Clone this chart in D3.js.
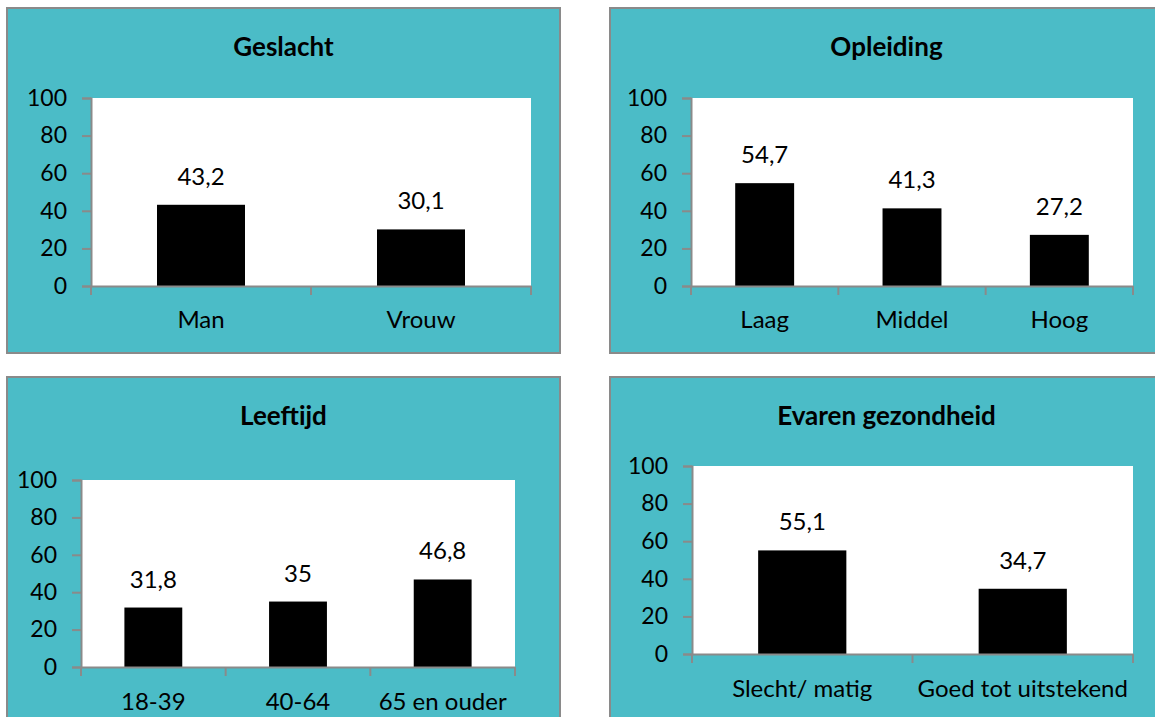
<!DOCTYPE html>
<html>
<head>
<meta charset="utf-8">
<script src="https://cdn.jsdelivr.net/npm/d3@7"></script>
<style>
  html, body { margin: 0; padding: 0; background: #ffffff; }
  svg { display: block; }
  text { font-family: Lato, "Open Sans", sans-serif; fill: #000; }
</style>
</head>
<body>
<svg id="chart" width="1155" height="717"></svg>
<script>
// ---- data ----
const titles = ["Geslacht", "Opleiding", "Leeftijd", "Evaren gezondheid"];
const geslachtCategories = ["Man", "Vrouw"];
const geslachtValues = [43.2, 30.1];
const opleidingCategories = ["Laag", "Middel", "Hoog"];
const opleidingValues = [54.7, 41.3, 27.2];
const leeftijdCategories = ["18-39", "40-64", "65 en ouder"];
const leeftijdValues = [31.8, 35, 46.8];
const gezondheidCategories = ["Slecht/ matig", "Goed tot uitstekend"];
const gezondheidValues = [55.1, 34.7];
const yTickValues = [0, 20, 40, 60, 80, 100];

// ---- layout ----
const panels = [
  { title: titles[0], cats: geslachtCategories, vals: geslachtValues,
    box: [7, 8, 553, 345], plot: [91, 98, 440, 188], titleY: 56, catY: 328 },
  { title: titles[1], cats: opleidingCategories, vals: opleidingValues,
    box: [610, 8, 553, 345], plot: [691, 98, 442, 188], titleY: 56, catY: 328 },
  { title: titles[2], cats: leeftijdCategories, vals: leeftijdValues,
    box: [7, 377, 553, 345], plot: [81, 480, 434, 187], titleY: 425, catY: 710 },
  { title: titles[3], cats: gezondheidCategories, vals: gezondheidValues,
    box: [610, 377, 553, 345], plot: [692, 466, 441, 188], titleY: 425, catY: 697 }
];

const svg = d3.select("#chart");
const fmt = v => String(v).replace(".", ",");
const TEAL = "#4BBCC7", GRID = "#8a8a8a";
const FS = 24;

panels.forEach(p => {
  const g = svg.append("g");
  const [bx, by, bw, bh] = p.box;
  const [px, py, pw, ph] = p.plot;

  g.append("rect").attr("x", bx).attr("y", by).attr("width", bw).attr("height", bh)
    .attr("fill", TEAL).attr("stroke", GRID).attr("stroke-width", 2);

  g.append("text").attr("x", bx + bw / 2).attr("y", p.titleY)
    .attr("text-anchor", "middle").attr("font-weight", "bold")
    .attr("font-size", 26).text(p.title);

  g.append("rect").attr("x", px).attr("y", py).attr("width", pw).attr("height", ph)
    .attr("fill", "#fff");

  const x = d3.scaleBand().domain(p.cats).range([px, px + pw]).paddingInner(0.6).paddingOuter(0.3);
  const y = d3.scaleLinear().domain([0, 100]).range([py + ph, py]);

  // bars
  g.selectAll("rect.bar").data(p.cats).enter().append("rect").attr("class", "bar")
    .attr("x", d => x(d)).attr("width", x.bandwidth())
    .attr("y", (d, i) => y(p.vals[i])).attr("height", (d, i) => y(0) - y(p.vals[i]))
    .attr("fill", "#000");

  // value labels
  g.selectAll("text.val").data(p.cats).enter().append("text").attr("class", "val")
    .attr("x", d => x(d) + x.bandwidth() / 2)
    .attr("y", (d, i) => y(p.vals[i]) - 20)
    .attr("text-anchor", "middle").attr("font-size", FS)
    .text((d, i) => fmt(p.vals[i]));

  // y axis
  const yAxis = d3.axisLeft(y).tickValues(yTickValues).tickSize(9).tickPadding(15).tickFormat(d3.format("d"));
  const ya = g.append("g").attr("transform", `translate(${px},0)`).call(yAxis);
  ya.select(".domain").attr("stroke", GRID).attr("stroke-width", 2);
  ya.selectAll(".tick line").attr("stroke", GRID).attr("stroke-width", 2);
  ya.selectAll(".tick text").attr("font-size", 23).attr("fill", "#000")
    .attr("font-family", "Lato, 'Open Sans', sans-serif");

  // x axis line + category boundary ticks
  const xAxis = d3.axisBottom(x).tickSize(0).tickFormat("");
  const xa = g.append("g").attr("transform", `translate(0,${py + ph})`).call(xAxis);
  xa.select(".domain").attr("stroke", GRID).attr("stroke-width", 2);
  const bounds = d3.range(p.cats.length + 1).map(i => px + i * pw / p.cats.length);
  xa.selectAll("line.bt").data(bounds).enter().append("line").attr("class", "bt")
    .attr("x1", d => d).attr("x2", d => d).attr("y1", 0).attr("y2", 9)
    .attr("stroke", GRID).attr("stroke-width", 2);

  g.selectAll("text.cat").data(p.cats).enter().append("text").attr("class", "cat")
    .attr("x", d => x(d) + x.bandwidth() / 2).attr("y", p.catY)
    .attr("text-anchor", "middle").attr("font-size", FS).text(d => d);
});
</script>
</body>
</html>
